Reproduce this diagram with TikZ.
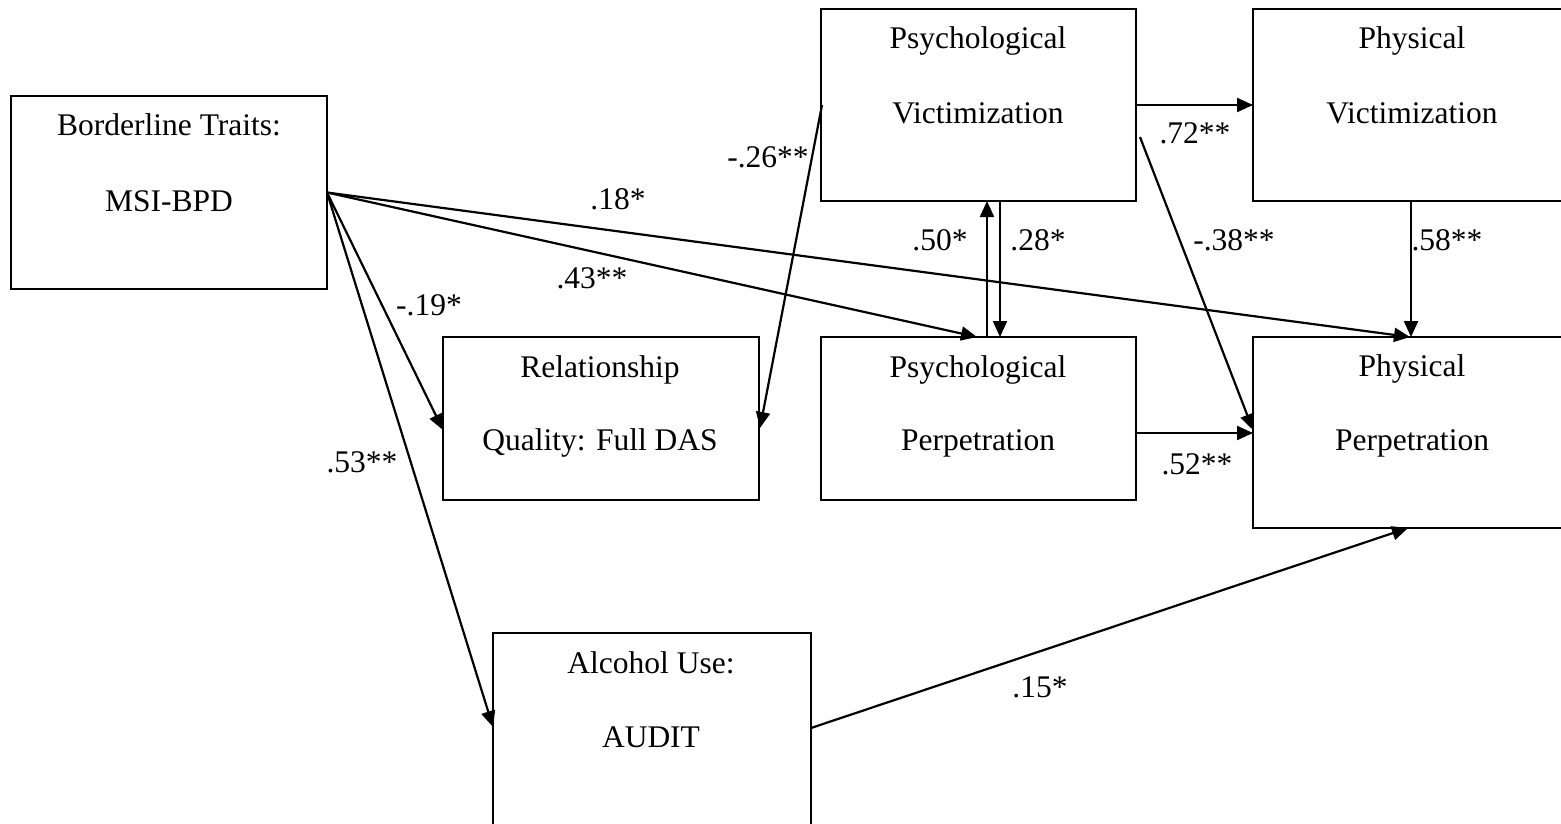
\documentclass[tikz,border=0pt]{standalone}
\usepackage{fontspec}
\setmainfont{Liberation Serif}
\usetikzlibrary{arrows.meta,calc}

\begin{document}
\begin{tikzpicture}[x=1pt,y=-1pt,
  box/.style={draw,line width=2pt,rectangle,anchor=north west,inner sep=0pt,outer sep=0pt},
  txt/.style={anchor=base,inner sep=0pt,font=\fontsize{31.5}{38}\selectfont},
  link/.style={line width=2.2pt,-{Triangle[length=16pt,width=14pt]}},
]
\clip (0,0) rectangle (1561,823);
\fill[white] (0,0) rectangle (1561,823);

% variable boxes
\node[box,minimum width=316pt,minimum height=193pt] (bt)  at (11,96)   {};
\node[box,minimum width=315pt,minimum height=192pt] (pv)  at (821,9)   {};
\node[box,minimum width=330pt,minimum height=192pt] (phv) at (1253,9)  {};
\node[box,minimum width=316pt,minimum height=163pt] (rq)  at (443,337) {};
\node[box,minimum width=315pt,minimum height=163pt] (pp)  at (821,337) {};
\node[box,minimum width=330pt,minimum height=191pt] (php) at (1253,337){};
\node[box,minimum width=318pt,minimum height=210pt] (al)  at (493,633) {};

% box texts
\node[txt] (bt1)  at (169,135)  {Borderline Traits:};
\node[txt] (bt2)  at (169,211)  {MSI-BPD};
\node[txt] (pv1)  at (978,48)   {Psychological};
\node[txt] (pv2)  at (978,123)  {Victimization};
\node[txt] (phv1) at (1412,48)  {Physical};
\node[txt] (phv2) at (1412,123) {Victimization};
\node[txt] (rq1)  at (600,377)  {Relationship};
\node[txt] (rq2)  at (600,450)  {Quality: Full DAS};
\node[txt] (pp1)  at (978,377)  {Psychological};
\node[txt] (pp2)  at (978,450)  {Perpetration};
\node[txt] (php1) at (1412,376) {Physical};
\node[txt] (php2) at (1412,450) {Perpetration};
\node[txt] (al1)  at (651,673)  {Alcohol Use:};
\node[txt] (al2)  at (651,747)  {AUDIT};

% paths from borderline traits
\draw[link] (bt.east) -- ($(pp.north west)+(156,0)$);
\draw[link] (bt.east) -- ($(php.north west)+(157,0)$);
\draw[link] (bt.east) -- ($(rq.north west)+(0,93)$);
\draw[link] (bt.east) -- ($(al.north west)+(0,94)$);

% paths among victimization and perpetration
\draw[link] ($(pv.north west)+(1,96)$) -- ($(rq.north east)+(1,91)$);
\draw[link] ($(pv.north east)+(0,96)$) -- ($(phv.north west)+(0,96)$);
\draw[link] ($(pv.north east)+(4,128)$) -- ($(php.north west)+(0,93)$);
\draw[link] ($(pp.north east)+(0,96)$) -- ($(php.north west)+(0,96)$);
\draw[link] ($(pp.north west)+(166,0)$) -- ($(pv.south west)+(166,0)$);
\draw[link] ($(pv.south west)+(179,0)$) -- ($(pp.north west)+(179,0)$);
\draw[link] ($(phv.south west)+(158,0)$) -- ($(php.north west)+(158,0)$);
\draw[link] ($(al.north east)+(0,95)$) -- ($(php.south west)+(155,0)$);

% path coefficients
\node[txt] (c18) at (618,209)  {.18*};
\node[txt] (c43) at (592,288)  {.43**};
\node[txt] (c19) at (429,315)  {-.19*};
\node[txt] (c53) at (362,472)  {.53**};
\node[txt] (c26) at (768,167)  {-.26**};
\node[txt] (c50) at (940,250)  {.50*};
\node[txt] (c28) at (1038,250) {.28*};
\node[txt] (c72) at (1195,143) {.72**};
\node[txt] (c38) at (1234,250) {-.38**};
\node[txt] (c58) at (1447,250) {.58**};
\node[txt] (c52) at (1197,474) {.52**};
\node[txt] (c15) at (1040,697) {.15*};
\end{tikzpicture}
\end{document}
